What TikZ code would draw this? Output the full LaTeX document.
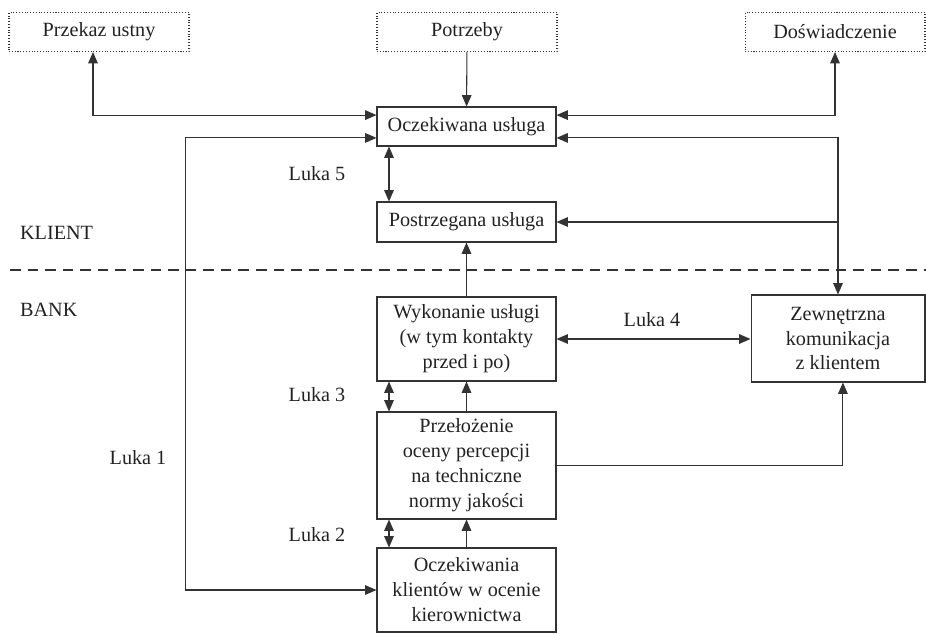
\documentclass[tikz,border=0pt]{standalone}
\usepackage{fontspec}
\setmainfont{Liberation Serif}
\usepackage{tikz}
\usetikzlibrary{calc, positioning, arrows.meta}
\definecolor{gapline}{HTML}{333333}
\definecolor{gaptext}{HTML}{222222}

\begin{document}
\begin{tikzpicture}[
  x=0.02cm, y=-0.02cm,
  font=\fontsize{11.5}{14.2}\selectfont, text=gaptext,
  box/.style={draw=gapline, line width=0.6pt, inner sep=0pt, minimum width=3.58cm, align=center},
  src/.style={box, densely dotted, minimum width=3.6cm, minimum height=0.78cm},
  arr/.style={-{Triangle[length=6.5pt,width=5.5pt]}, line width=0.6pt, color=gapline},
  arrs/.style={{Triangle[length=6.5pt,width=5.5pt]}-{Triangle[length=6.5pt,width=5.5pt]}, line width=0.6pt, color=gapline},
  lbl/.style={inner sep=1pt}
]
\useasboundingbox (0,0) rectangle (926,633);

\node[src] (przekaz) at (99,32) {Przekaz ustny};
\node[src] (potrzeby) at (467,32) {Potrzeby};
\node[src] (dosw) at (835,32) {Doświadczenie};

\node[box, minimum height=0.78cm] (oczek) at (466.5,126.5) {Oczekiwana usługa};
\node[box, minimum height=0.8cm] (postrz) at (466.5,222) {Postrzegana usługa};
\node[box, minimum height=1.68cm] (wykon) at (466.5,339) {Wykonanie usługi\\(w tym kontakty\\przed i po)};
\node[box, minimum height=2.14cm] (przel) at (466.5,465.5) {Przełożenie\\oceny percepcji\\na techniczne\\normy jakości};
\node[box, minimum height=1.68cm] (oczkl) at (466.5,590) {Oczekiwania\\klientów w ocenie\\kierownictwa};
\node[box, minimum width=3.48cm, minimum height=1.74cm] (zewn) at (838,338.5) {Zewnętrzna\\komunikacja\\z klientem};

\node[lbl, anchor=west] (klient) at (18,233) {KLIENT};
\node[lbl, anchor=west] (bank) at (18,310) {BANK};
\node[lbl] (luka1) at (138,458) {Luka 1};
\node[lbl] (luka2) at (317,535) {Luka 2};
\node[lbl] (luka3) at (317,395) {Luka 3};
\node[lbl] (luka4) at (652,320) {Luka 4};
\node[lbl] (luka5) at (317,174) {Luka 5};

\coordinate (gap) at (389,0);
\coordinate (divl) at (10,270);
\coordinate (divr) at (926,270);

\draw[dashed, dash pattern=on 6pt off 4pt, line width=0.6pt, gapline] (divl) -- (divr);

\draw[arr] (potrzeby) -- (oczek);
\draw[arrs] (przekaz.south -| 93,0) |- ([yshift=6.5pt]oczek.west);
\draw[arrs] (dosw.south) |- ([yshift=6.5pt]oczek.east);
\draw[arrs] ([yshift=-6.5pt]oczek.west) -- ++(-191,0) |- (oczkl.west);
\draw[arrs] ([yshift=-6.5pt]oczek.east) -| (zewn.north);
\draw[arr] (zewn.north |- postrz.east) -- (postrz.east);
\draw[arrs] (oczek.south -| gap) -- (postrz.north -| gap);
\draw[arr] (wykon) -- (postrz);
\draw[arrs] (wykon.east) -- (wykon.east -| zewn.west);
\draw[arrs] (wykon.south -| gap) -- (przel.north -| gap);
\draw[arr] (przel) -- (wykon);
\draw[arr] (przel.east) -| ([xshift=2.8pt]zewn.south);
\draw[arrs] (przel.south -| gap) -- (oczkl.north -| gap);
\draw[arr] (oczkl) -- (przel);

\end{tikzpicture}
\end{document}
